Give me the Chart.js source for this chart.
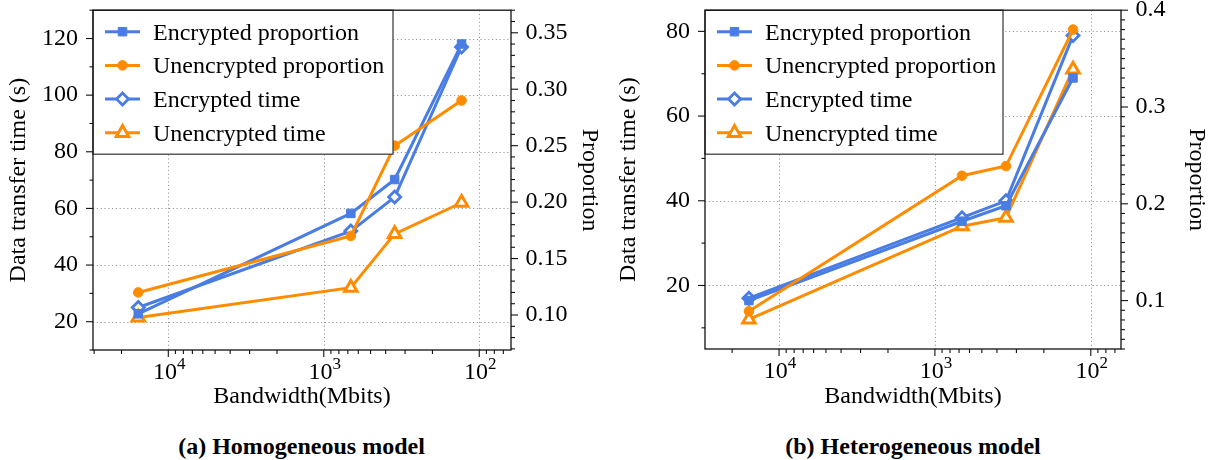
<!DOCTYPE html>
<html lang="en">
<head>
<meta charset="UTF-8">
<title>Data transfer time vs bandwidth</title>
<script src="https://cdn.jsdelivr.net/npm/chart.js"></script>
<style>
  body { margin: 0; background: #fff; font-family: 'Liberation Serif', 'Times New Roman', serif; }
  .row { display: flex; width: 1211px; height: 460px; }
  .panel { position: relative; height: 460px; }
  .panel canvas { position: absolute; left: 0; top: 0; }
  .caption {
    position: absolute; top: 430px; left: 0; width: 100%; box-sizing: border-box;
    text-align: center; font-weight: bold; font-size: 24px; line-height: 32px; color: #000;
  }
</style>
</head>
<body>
<div class="row">
  <div class="panel" style="width:605px">
    <canvas id="chartA" width="605" height="420"></canvas>
    <div class="caption" style="padding-right:2px">(a) Homogeneous model</div>
  </div>
  <div class="panel" style="width:606px">
    <canvas id="chartB" width="606" height="420"></canvas>
    <div class="caption" style="padding-left:10px">(b) Heterogeneous model</div>
  </div>
</div>

<script>
  // bandwidth (Mbits), same four settings in both panels
  const bandwidth = [15600, 670, 350, 130];
  const seriesNames = ['Encrypted proportion', 'Unencrypted proportion', 'Encrypted time', 'Unencrypted time'];

  // (a) homogeneous model
  const homEncProp   = [0.101, 0.190, 0.220, 0.340];
  const homUnencProp = [0.120, 0.170, 0.250, 0.290];
  const homEncTime   = [25, 52, 64, 117];
  const homUnencTime = [21.5, 32, 51, 62];

  // (b) heterogeneous model
  const hetEncProp   = [0.100, 0.182, 0.198, 0.330];
  const hetUnencProp = [0.089, 0.229, 0.239, 0.380];
  const hetEncTime   = [17, 36, 40, 79];
  const hetUnencTime = [12, 34, 36, 71];

  // tick labels
  const xTickValues  = [10000, 1000, 100];
  const homTimeTicks = [20, 40, 60, 80, 100, 120];
  const homPropTicks = [0.10, 0.15, 0.20, 0.25, 0.30, 0.35];
  const hetTimeTicks = [20, 40, 60, 80];
  const hetPropTicks = [0.1, 0.2, 0.3, 0.4];

  const BLUE = '#4a7de4';
  const ORANGE = '#ff8c00';
  const FONT = "'Liberation Serif', 'Times New Roman', serif";

  Chart.defaults.font.family = FONT;
  Chart.defaults.font.size = 24;
  Chart.defaults.color = '#000';

  function pts(ys) {
    return bandwidth.map((x, i) => ({ x: x, y: ys[i] }));
  }

  function stepTicks(min, max, step) {
    const out = [];
    for (let i = Math.ceil(min / step - 1e-9); i * step <= max + 1e-9; i++) out.push(+(i * step).toFixed(6));
    return out;
  }

  function logMinor(min, max) {
    const out = [];
    for (let e = 0; e <= 5; e++) {
      for (let m = 1; m <= 9; m++) {
        const v = m * Math.pow(10, e);
        if (v >= min && v <= max) out.push(v);
      }
    }
    return out;
  }

  // grid, spines, tick marks, x tick labels and the boxed legend
  const decor = {
    id: 'decor',
    beforeDatasetsDraw(chart, args, o) {
      const { ctx, chartArea: a, scales } = chart;
      ctx.save();
      ctx.strokeStyle = '#9a9a9a';
      ctx.lineWidth = 1;
      ctx.setLineDash([1.2, 2.6]);
      o.timeTicks.forEach(v => {
        const py = Math.round(scales.y.getPixelForValue(v)) + 0.5;
        ctx.beginPath(); ctx.moveTo(a.left, py); ctx.lineTo(a.right, py); ctx.stroke();
      });
      xTickValues.forEach(v => {
        const px = Math.round(scales.x.getPixelForValue(v)) + 0.5;
        ctx.beginPath(); ctx.moveTo(px, a.top); ctx.lineTo(px, a.bottom); ctx.stroke();
      });
      ctx.restore();
    },
    afterDatasetsDraw(chart, args, o) {
      const { ctx, chartArea: a, scales } = chart;
      ctx.save();

      // legend box
      const lw = o.legendWidth, lh = 144;
      ctx.fillStyle = '#fff';
      ctx.fillRect(a.left, a.top, lw, lh);
      ctx.strokeStyle = '#333';
      ctx.lineWidth = 1.2;
      ctx.strokeRect(a.left, a.top, lw, lh);
      o.styles.forEach((s, i) => {
        const cy = a.top + 21.5 + i * 33.7;
        const x0 = a.left + 12, x1 = a.left + 47;
        ctx.strokeStyle = s.color;
        ctx.lineWidth = 3;
        ctx.beginPath(); ctx.moveTo(x0, cy); ctx.lineTo(x1, cy); ctx.stroke();
        ctx.fillStyle = s.fill;
        ctx.lineWidth = s.bw;
        Chart.helpers.drawPoint(ctx, { pointStyle: s.ps, radius: s.r, borderWidth: s.bw, rotation: 0 }, (x0 + x1) / 2, cy);
        ctx.fillStyle = '#000';
        ctx.font = '24px ' + FONT;
        ctx.textAlign = 'left';
        ctx.textBaseline = 'alphabetic';
        ctx.fillText(seriesNames[i], a.left + 60, cy + 8);
      });

      // spines
      ctx.strokeStyle = '#111';
      ctx.lineWidth = 1.3;
      ctx.strokeRect(a.left, a.top, a.right - a.left, a.bottom - a.top);

      // tick marks
      ctx.lineWidth = 1.1;
      const tick = (x0, y0, x1, y1) => { ctx.beginPath(); ctx.moveTo(x0, y0); ctx.lineTo(x1, y1); ctx.stroke(); };
      const xs = scales.x;
      logMinor(xs.min, xs.max).forEach(v => {
        const px = xs.getPixelForValue(v);
        const major = xTickValues.includes(v);
        tick(px, a.bottom, px, a.bottom + (major ? 7 : 4));
      });
      const ys = scales.y;
      stepTicks(ys.min, ys.max, o.timeMinor).forEach(v => {
        const py = ys.getPixelForValue(v);
        const major = o.timeTicks.some(t => Math.abs(t - v) < 1e-6);
        tick(a.left, py, a.left - (major ? 7 : 3.5), py);
      });
      const y1 = scales.y1;
      stepTicks(y1.min, y1.max, 0.01).forEach(v => {
        const py = y1.getPixelForValue(v);
        const major = o.propTicks.some(t => Math.abs(t - v) < 1e-6);
        tick(a.right, py, a.right + (major ? 7 : 4), py);
      });

      // x tick labels as 10^k
      ctx.fillStyle = '#000';
      ctx.textBaseline = 'alphabetic';
      ctx.textAlign = 'left';
      xTickValues.forEach(v => {
        const px = xs.getPixelForValue(v);
        const exp = String(Math.round(Math.log10(v)));
        ctx.font = '24px ' + FONT;
        const wb = ctx.measureText('10').width;
        ctx.font = '17px ' + FONT;
        const we = ctx.measureText(exp).width;
        const x0 = px - (wb + we) / 2 + 1;
        ctx.font = '24px ' + FONT;
        ctx.fillText('10', x0, a.bottom + 29);
        ctx.font = '17px ' + FONT;
        ctx.fillText(exp, x0 + wb, a.bottom + 19);
      });
      ctx.restore();
    }
  };

  const markerStyles = [
    { color: BLUE,   fill: BLUE,   ps: 'rect',     r: 6,   bw: 1 },
    { color: ORANGE, fill: ORANGE, ps: 'circle',   r: 4.8, bw: 1 },
    { color: BLUE,   fill: '#fff', ps: 'rectRot',  r: 6,   bw: 2.8 },
    { color: ORANGE, fill: '#fff', ps: 'triangle', r: 7.2, bw: 3 }
  ];

  function makeChart(id, p) {
    const series = [p.encProp, p.unencProp, p.encTime, p.unencTime];
    const axes = ['y1', 'y1', 'y', 'y'];
    const orders = [1, 0, 3, 2];
    const datasets = series.map((ys, i) => {
      const s = markerStyles[i];
      return {
        label: seriesNames[i],
        data: pts(ys),
        yAxisID: axes[i],
        order: orders[i],
        borderColor: s.color,
        borderWidth: 3,
        tension: 0,
        fill: false,
        pointStyle: s.ps,
        pointRadius: s.r,
        pointBorderWidth: s.bw,
        pointBackgroundColor: s.fill,
        pointBorderColor: s.color
      };
    });

    const titleFont = { family: FONT, size: 24, lineHeight: 1 };
    const noPad = s => { s.paddingTop = 0; s.paddingBottom = 0; s.paddingLeft = 0; s.paddingRight = 0; };
    const canvas = document.getElementById(id);

    return new Chart(canvas, {
      type: 'line',
      data: { datasets: datasets },
      plugins: [decor],
      options: {
        responsive: false,
        animation: false,
        events: [],
        layout: { padding: { top: p.top, left: 0, right: 0, bottom: 0 } },
        plugins: {
          legend: { display: false },
          tooltip: { enabled: false },
          decor: {
            timeTicks: p.timeTicks, propTicks: p.propTicks, timeMinor: 10,
            legendWidth: p.legendWidth, styles: markerStyles
          }
        },
        scales: {
          x: {
            type: 'logarithmic',
            reverse: true,
            min: p.xMin, max: p.xMax,
            grid: { display: false, drawTicks: false },
            border: { display: false },
            ticks: { display: false },
            afterFit(s) { s.height = p.xHeight; noPad(s); },
            title: { display: true, text: 'Bandwidth(Mbits)', color: '#000', font: titleFont, padding: { top: 0, bottom: 11 } }
          },
          y: {
            position: 'left',
            min: p.timeMin, max: p.timeMax,
            grid: { display: false, drawTicks: false },
            border: { display: false },
            ticks: { padding: 15, autoSkip: false, color: '#000', font: { family: FONT, size: 24 }, callback: v => String(v) },
            afterBuildTicks(s) { s.ticks = p.timeTicks.map(v => ({ value: v })); },
            afterFit(s) { s.width = p.leftW; noPad(s); },
            title: { display: true, text: 'Data transfer time (s)', color: '#000', font: titleFont, padding: { top: p.yTitlePad, bottom: 0 } }
          },
          y1: {
            position: 'right',
            min: p.propMin, max: p.propMax,
            grid: { display: false, drawTicks: false },
            border: { display: false },
            ticks: { padding: 14.5, autoSkip: false, color: '#000', font: { family: FONT, size: 24 }, callback: v => v.toFixed(p.propDigits) },
            afterBuildTicks(s) { s.ticks = p.propTicks.map(v => ({ value: v })); },
            afterFit(s) { s.width = p.rightW; noPad(s); },
            title: { display: true, text: 'Proportion', color: '#000', font: titleFont, padding: { top: p.y1TitlePad, bottom: 0 } }
          }
        }
      }
    });
  }

  makeChart('chartA', {
    encProp: homEncProp, unencProp: homUnencProp, encTime: homEncTime, unencTime: homUnencTime,
    timeTicks: homTimeTicks, propTicks: homPropTicks, propDigits: 2,
    timeMin: 10, timeMax: 130, propMin: 0.069, propMax: 0.370,
    xMin: 62.5, xMax: 30500,
    top: 10, xHeight: 70, leftW: 93, rightW: 94,
    yTitlePad: 7, y1TitlePad: 4, legendWidth: 300
  });

  makeChart('chartB', {
    encProp: hetEncProp, unencProp: hetUnencProp, encTime: hetEncTime, unencTime: hetUnencTime,
    timeTicks: hetTimeTicks, propTicks: hetPropTicks, propDigits: 1,
    timeMin: 5, timeMax: 85, propMin: 0.05, propMax: 0.40,
    xMin: 64, xMax: 29850,
    top: 10, xHeight: 71, leftW: 100, rightW: 90,
    yTitlePad: 12, y1TitlePad: 3, legendWidth: 298
  });
</script>
</body>
</html>
